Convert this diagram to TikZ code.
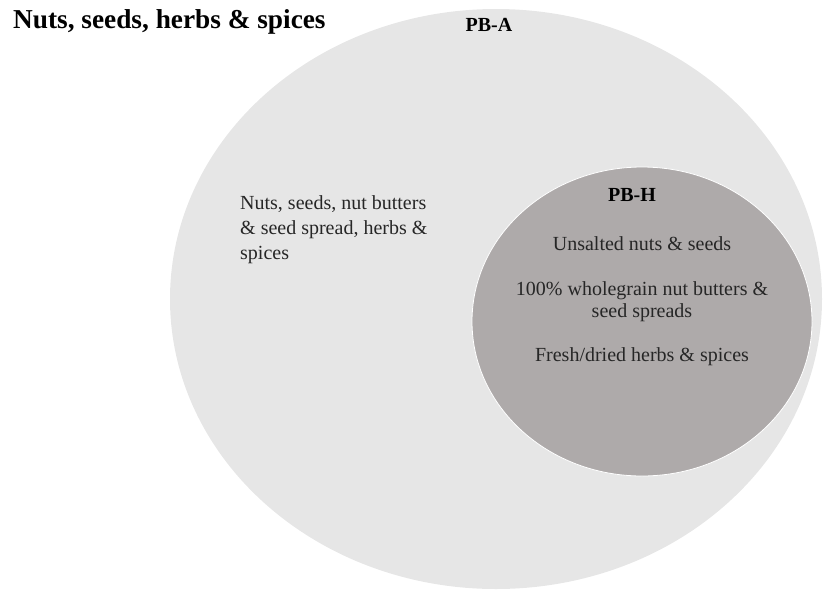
\documentclass[tikz,border=0pt]{standalone}
\usepackage{fontspec}
\setmainfont{Liberation Serif}
\definecolor{outerfill}{HTML}{E6E6E6}
\definecolor{innerfill}{HTML}{AEAAAA}
\definecolor{txt}{HTML}{262626}
\begin{document}
\begin{tikzpicture}[x=1pt,y=-1pt,
  body/.style={font=\fontsize{20}{25}\selectfont, text=txt, inner sep=0pt},
  heading/.style={font=\bfseries\fontsize{20}{24}\selectfont, text=black, inner sep=0pt}]
\useasboundingbox (0,0) rectangle (823,590);
% outer set (all products)
\fill[outerfill] (496,299) ellipse [x radius=326, y radius=290];
\node[inner sep=0pt] (outer) at (496,299) {};
% inner set (healthy products)
\filldraw[fill=innerfill, draw=white, line width=0.8pt] (642,321.5) ellipse [x radius=170, y radius=154.5];
\node[inner sep=0pt] (inner) at (642,321.5) {};
% title
\node[anchor=base west, inner sep=0pt, font=\bfseries\fontsize{27.3}{30}\selectfont] (title) at (13,28) {Nuts, seeds, herbs \& spices};
% set labels
\node[heading, anchor=base] (pba) at (489,31) {PB-A};
\node[heading, anchor=base] (pbh) at (632,201.5) {PB-H};
% outer text (anchored on the baseline of its last line)
\node[body, anchor=base west, align=left] (outtext) at (240,259)
  {Nuts, seeds, nut butters\\\& seed spread, herbs \&\\spices};
% inner text
\node[body, anchor=base] (in1) at (642,250.5) {Unsalted nuts \& seeds};
\node[body, anchor=base, align=center, font=\fontsize{20}{22}\selectfont] (in2) at (642,317) {100\% wholegrain nut butters \&\\seed spreads};
\node[body, anchor=base] (in3) at (642,361.5) {Fresh/dried herbs \& spices};
\end{tikzpicture}
\end{document}
